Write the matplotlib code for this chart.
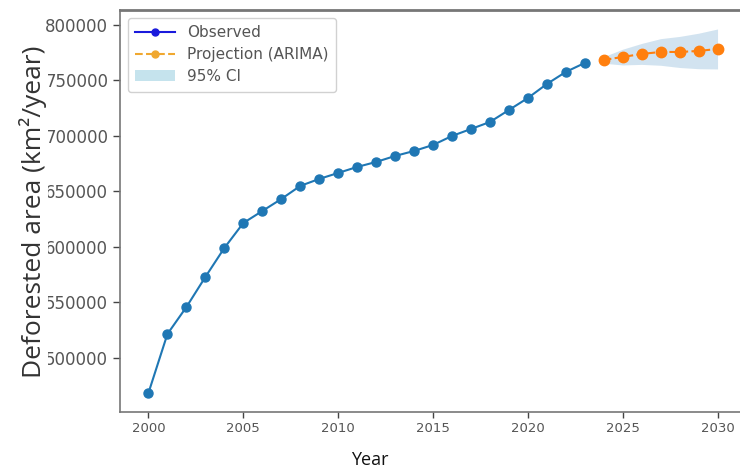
import matplotlib
matplotlib.use("Agg")
import matplotlib.pyplot as plt
from matplotlib.lines import Line2D
from matplotlib.patches import Patch

# ======== data ========
obs_years = list(range(2000, 2024))
obs_area = [468500, 521600, 545900, 573000, 599100, 621600, 632400, 643200,
            655000, 661300, 666700, 672100, 676600, 682000, 686500, 691900,
            700000, 706300, 712600, 723400, 734200, 746800, 757700, 765800]

proj_years = list(range(2024, 2031))
proj_area = [768500, 771200, 773900, 775700, 775700, 776600, 778400]
ci_lower = [765500, 764000, 764500, 763700, 761700, 760600, 760400]
ci_upper = [771500, 778200, 783400, 787700, 789700, 792600, 796400]

y_ticks = [500000, 550000, 600000, 650000, 700000, 750000, 800000]
x_ticks = [2000, 2005, 2010, 2015, 2020, 2025, 2030]

# ======== figure ========
fig = plt.figure(figsize=(7.4, 4.71), dpi=100)
ax = fig.add_axes([120 / 740, 59.5 / 471, 626 / 740, 401.5 / 471])

ax.fill_between(proj_years, ci_lower, ci_upper, color="#1f77b4", alpha=0.2,
                linewidth=0)
ax.plot(obs_years, obs_area, color="#1f77b4", marker="o", markersize=6.5,
        linewidth=1.5)
ax.plot(proj_years, proj_area, color="#ff7f0e", marker="o", markersize=7.5,
        linestyle="--", linewidth=1.5)

ax.set_xlim(1998.5, 2031.5)
ax.set_ylim(451800, 813500)
ax.set_xticks(x_ticks)
ax.set_yticks(y_ticks)
ax.tick_params(axis="x", labelsize=9.5, colors="#444", length=4, width=1,
               labelcolor="#555")
ax.tick_params(axis="y", labelsize=12, colors="#444", length=5, width=1,
               labelcolor="#555")
for side in ["left", "bottom", "top"]:
    ax.spines[side].set_color("#777")
    ax.spines[side].set_linewidth(1.2)
ax.spines["top"].set_linewidth(2)
ax.spines["right"].set_visible(False)

# legend (its own handles, as in the original)
handles = [
    Line2D([], [], color="#1a1adc", marker="o", markersize=5, linewidth=1.5),
    Line2D([], [], color="#f0a830", marker="o", markersize=5, linewidth=1.5,
           linestyle="--"),
    Patch(facecolor="#add8e6", alpha=0.7, edgecolor="none"),
]
ax.legend(handles, ["Observed", "Projection (ARIMA)", "95% CI"],
          loc="upper left", fontsize=11, frameon=True, labelcolor="#555",
          handlelength=2.6, borderpad=0.5, labelspacing=0.45,
          framealpha=0.9)

# axis titles (the y title sits over the first digits, as in the original)
fig.text(33 / 740, 0.55, "Deforested area (km²/year)", rotation=90,
         ha="center", va="center", fontsize=19, family="Open Sans",
         color="#333",
         bbox=dict(facecolor="white", edgecolor="none", pad=1))
fig.text(0.5, 11 / 471, "Year", ha="center", va="center", fontsize=13,
         family="Open Sans", color="#111")

plt.savefig("out.png", dpi=100)
plt.close()
